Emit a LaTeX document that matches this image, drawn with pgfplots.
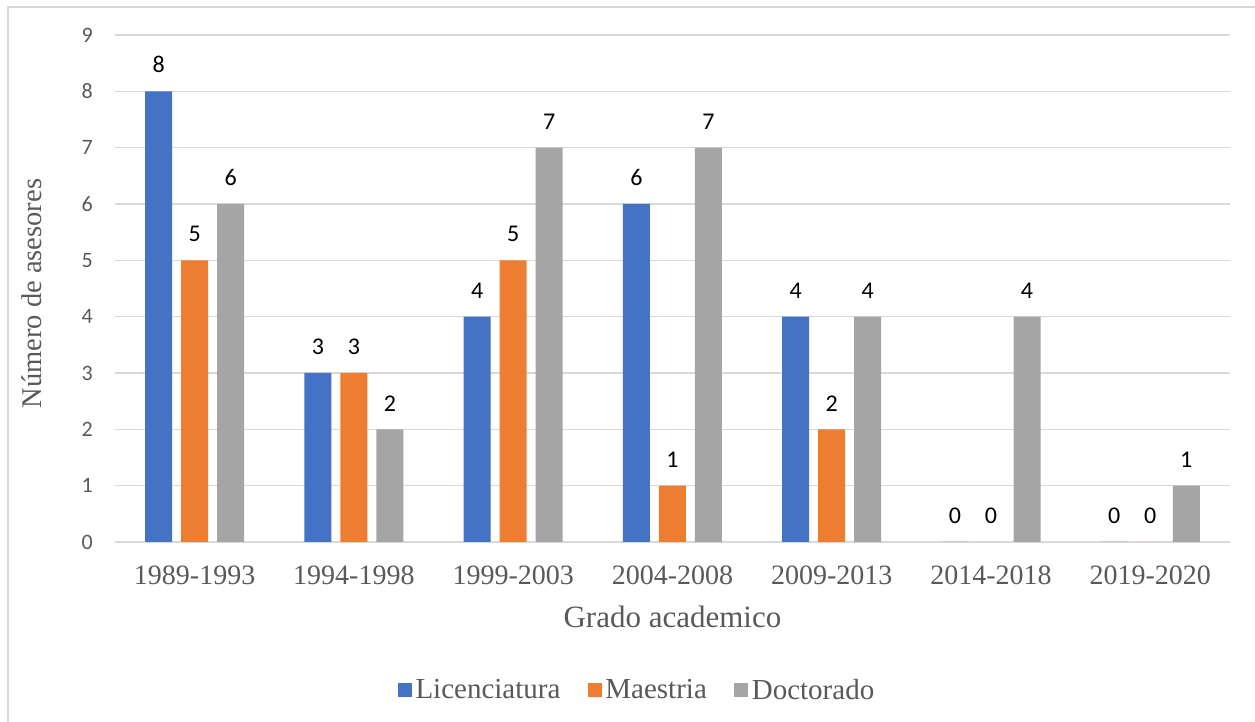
\documentclass[border=0pt]{standalone}
\usepackage{pgfplots}
\pgfplotsset{compat=1.18}
\usepackage{fontspec}
\setmainfont{Liberation Serif}
\newfontfamily\carlito{Carlito}
\definecolor{cblue}{HTML}{4472C4}
\definecolor{corange}{HTML}{ED7D31}
\definecolor{cgray}{HTML}{A5A5A5}
\definecolor{gridc}{HTML}{D9D9D9}
\definecolor{txt}{HTML}{595959}
\begin{document}
\begin{tikzpicture}[x=1pt,y=1pt]
\path[use as bounding box] (0,0) rectangle (1255,722);
\draw[color=gridc, line width=1.5pt] (8,0) -- (8,715) -- (1255,715);
\begin{axis}[
  at={(115pt,180pt)}, anchor=south west,
  scale only axis, width=1115pt, height=507pt,
  xmin=-0.5, xmax=6.5, ymin=0, ymax=9,
  /pgf/number format/assume math mode=true,
  ytick={0,1,...,9}, xtick={0,...,6},
  xticklabels={1989-1993,1994-1998,1999-2003,2004-2008,2009-2013,2014-2018,2019-2020},
  ymajorgrids, grid style={gridc, line width=1.5pt},
  axis line style={draw=none},
  major tick length=0pt, tick style={draw=none},
  yticklabel style={font=\carlito\fontsize{22}{22}\selectfont, color=txt, anchor=east, inner sep=0pt, xshift=-22pt},
  xticklabel style={font=\fontsize{28}{28}\selectfont, color=txt, anchor=north, inner sep=0pt, yshift=-24pt},
  xlabel={Grado academico}, ylabel={Número de asesores},
  xlabel style={font=\fontsize{31}{31}\selectfont, color=txt, at={(axis description cs:0.5,-0.148)}, anchor=center},
  ylabel style={font=\fontsize{28.5}{28.5}\selectfont, color=txt, at={(axis description cs:-0.0744,0.49)}, anchor=center},
  ybar=9pt, bar width=27pt,
  nodes near coords,
  every node near coord/.append style={font=\carlito\fontsize{24}{24}\selectfont, black, anchor=south, inner sep=0pt, yshift=18pt, /pgf/number format/assume math mode=true},
  legend columns=3,
  legend style={draw=none, at={(0.469,-0.292)}, anchor=center, font=\fontsize{29}{29}\selectfont, text=txt,
    /tikz/every even column/.append style={column sep=24pt},
    nodes={inner sep=3.5pt}},
  legend image code/.code={\path[#1] (0pt,-7pt) rectangle (14pt,7pt);},
]
\addplot[fill=cblue, draw=none] coordinates {(0,8) (1,3) (2,4) (3,6) (4,4) (5,0) (6,0)};
\addplot[fill=corange, draw=none] coordinates {(0,5) (1,3) (2,5) (3,1) (4,2) (5,0) (6,0)};
\addplot[fill=cgray, draw=none] coordinates {(0,6) (1,2) (2,7) (3,7) (4,4) (5,4) (6,1)};
\legend{Licenciatura,Maestria,Doctorado}
\end{axis}
\end{tikzpicture}
\end{document}
